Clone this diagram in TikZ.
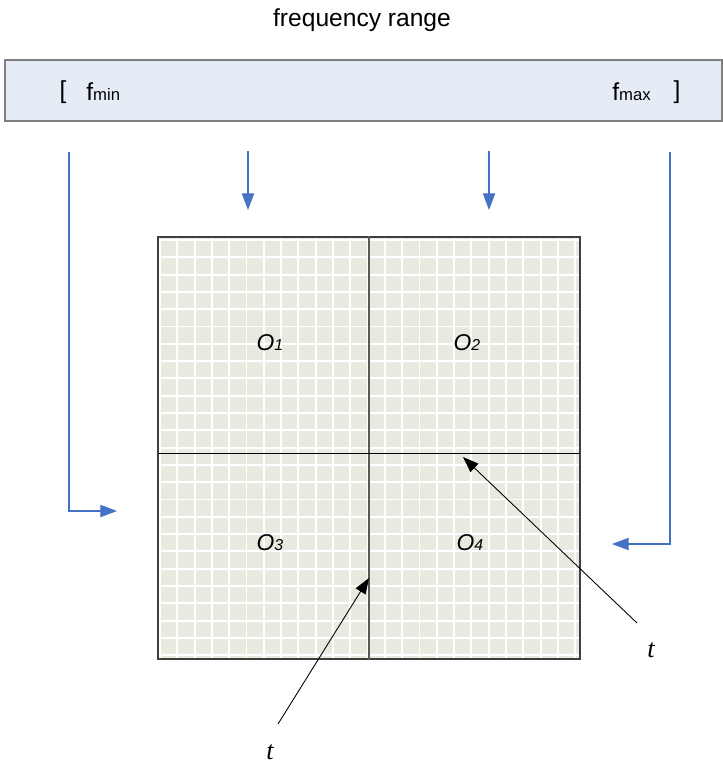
\documentclass[tikz,border=0pt]{standalone}
\usepackage{fontspec}
\setmainfont{Liberation Sans}
\newfontfamily\timesfont{Liberation Serif}
\usetikzlibrary{arrows.meta,positioning,calc}

\definecolor{bandfill}{HTML}{E6ECF6}
\definecolor{bandline}{HTML}{7F7F7F}
\definecolor{arrowblue}{HTML}{4472C4}
\definecolor{gridfill}{HTML}{E9EADF}
\definecolor{boxline}{HTML}{3F3F3F}

\tikzset{
  bluearrow/.style={draw=arrowblue, line width=0.6pt, -{Triangle[length=9.5pt,width=7pt]}},
  blackarrow/.style={draw=black, line width=0.5pt, -{Triangle[length=9pt,width=6.5pt]}},
  quadlabel/.style={font=\fontsize{13}{15}\selectfont\itshape, inner sep=0pt},
  tlabel/.style={font=\timesfont\fontsize{15}{17}\selectfont\itshape, inner sep=0pt},
  freqlabel/.style={font=\fontsize{14}{16}\selectfont, inner sep=0pt},
}
\newcommand{\quadname}[1]{O{\fontsize{9}{10}\selectfont #1}}
\newcommand{\freqname}[1]{f{\fontsize{9.5}{10}\selectfont #1}}

\begin{document}
\begin{tikzpicture}[x=0.02cm,y=-0.02cm]
\useasboundingbox (0,0) rectangle (723,767);

% frequency band
\node[font=\fontsize{14}{16}\selectfont] (title) at (362,20) {frequency range};
\draw[draw=bandline, fill=bandfill, line width=0.7pt] (5,60) rectangle (722,121);
\node[freqlabel] (lbr) at (63,92) {[};
\node[freqlabel, anchor=west] (fmin) at (86,92) {\freqname{min}};
\node[freqlabel, anchor=west] (fmax) at (612,92) {\freqname{max}};
\node[freqlabel] (rbr) at (677,92) {]};

% time-frequency square
\node[draw=boxline, line width=0.8pt, fill=gridfill, minimum size=8.44cm, inner sep=0pt] (sq) at (369,448) {};
\foreach \i in {0,...,24} {
  \draw[white, line width=1.1pt] (160+\i*17.3,238) -- (160+\i*17.3,658);
  \draw[white, line width=1.1pt] (159,240+\i*17.3) -- (579,240+\i*17.3);
}
\draw[boxline, line width=0.8pt] (sq.north west) rectangle (sq.south east);
\draw[black!65, line width=0.8pt] (sq.north) -- (sq.south);
\draw[black, line width=0.5pt] (158,453) -- (580,453);

\node[quadlabel] (o1) at (270,343) {\quadname{1}};
\node[quadlabel] (o2) at (467,343) {\quadname{2}};
\node[quadlabel] (o3) at (270,543) {\quadname{3}};
\node[quadlabel] (o4) at (470,543) {\quadname{4}};

% band edges into the square
\coordinate (lowtop) at (69,152);
\coordinate (lowend) at (117,511);
\coordinate (midatop) at (248,151);
\coordinate (midaend) at (248,210);
\coordinate (midbtop) at (489,151);
\coordinate (midbend) at (489,210);
\coordinate (hightop) at (670,152);
\coordinate (highend) at (612,544);
\draw[bluearrow] (lowtop) |- (lowend);
\draw[bluearrow] (midatop) -- (midaend);
\draw[bluearrow] (midbtop) -- (midbend);
\draw[bluearrow] (hightop) |- (highend);

% time markers
\node[tlabel] (tright) at (651,650) {t};
\node[tlabel] (tleft) at (270,752) {t};
\coordinate (trtail) at (637,623);
\coordinate (trtip) at (463,457);
\coordinate (tltail) at (278,724);
\coordinate (tltip) at (369,578);
\draw[blackarrow] (trtail) -- (trtip);
\draw[blackarrow] (tltail) -- (tltip);
\end{tikzpicture}
\end{document}
